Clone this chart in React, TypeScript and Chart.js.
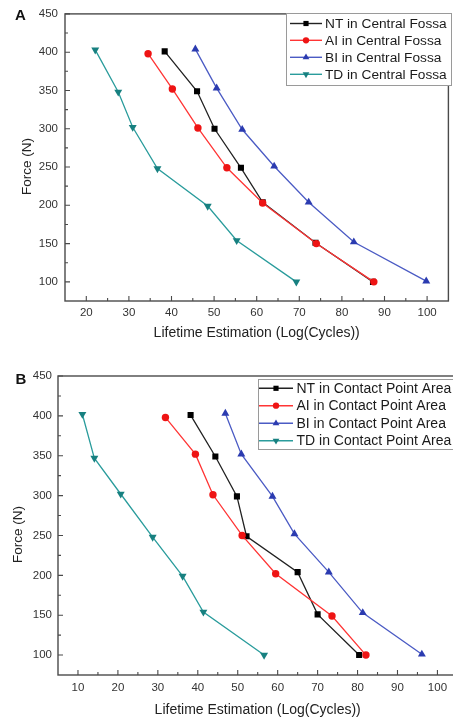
import React, { useEffect, useRef } from "react";
import { Chart, registerables } from "chart.js";

Chart.register(...registerables);

// ---------- data ----------
const SERIES = ["NT", "AI", "BI", "TD"];
const SUFFIX_A = " in Central Fossa";
const SUFFIX_B = " in Contact Point Area";

// Panel A (Central Fossa)
const A_NT_X = [38.4, 46.0, 50.1, 56.3, 61.4, 73.8, 87.3];
const A_NT_Y = [401, 349, 300, 249, 204, 151, 100];
const A_AI_X = [34.5, 40.2, 46.2, 53.0, 61.4, 74.0, 87.5];
const A_AI_Y = [398, 352, 301, 249, 203, 150, 100];
const A_BI_X = [45.6, 50.6, 56.6, 64.1, 72.2, 82.8, 99.8];
const A_BI_Y = [404, 353, 299, 251, 204, 152, 101];
const A_TD_X = [22.1, 27.5, 30.9, 36.7, 48.5, 55.3, 69.3];
const A_TD_Y = [403, 348, 302, 248, 199, 154, 100];

// Panel B (Contact Point Area)
const B_NT_X = [38.2, 44.4, 49.8, 52.2, 65.0, 70.0, 80.4];
const B_NT_Y = [401, 349, 299, 249, 204, 151, 100];
const B_AI_X = [31.9, 39.4, 43.8, 51.1, 59.5, 73.6, 82.1];
const B_AI_Y = [398, 352, 301, 250, 202, 149, 100];
const B_BI_X = [46.9, 50.9, 58.7, 64.2, 72.8, 81.3, 96.1];
const B_BI_Y = [403, 352, 299, 252, 204, 153, 101];
const B_TD_X = [11.1, 14.1, 20.7, 28.7, 36.2, 41.4, 56.6];
const B_TD_Y = [402, 347, 302, 248, 199, 154, 100];

const Y_TICKS = [100, 150, 200, 250, 300, 350, 400, 450];
const X_TICKS_A = [20, 30, 40, 50, 60, 70, 80, 90, 100];
const X_TICKS_B = [10, 20, 30, 40, 50, 60, 70, 80, 90, 100];

const X_TITLE = "Lifetime Estimation (Log(Cycles))";
const Y_TITLE = "Force (N)";

// ---------- styles ----------
const FONT = '"Liberation Sans", Arial, Helvetica, sans-serif';
const STYLE: Record<string, any> = {
  NT: { line: "#222222", point: "#000000", shape: "rect", radius: 4.3, rotation: 0, order: 4 },
  AI: { line: "#ff3535", point: "#ee1414", shape: "circle", radius: 3.7, rotation: 0, order: 3 },
  BI: { line: "#4b5bc4", point: "#2b3bb0", shape: "triangle", radius: 4.6, rotation: 0, order: 2 },
  TD: { line: "#2a9c9c", point: "#178080", shape: "triangle", radius: 4.6, rotation: 180, order: 1 },
};

function drawMarker(ctx: CanvasRenderingContext2D, shape: string, x: number, y: number, r: number, rot: number) {
  ctx.beginPath();
  if (shape === "circle") {
    ctx.arc(x, y, r, 0, Math.PI * 2);
  } else if (shape === "rect") {
    const s = Math.SQRT1_2 * r;
    ctx.rect(x - s, y - s, 2 * s, 2 * s);
  } else {
    let a = (rot * Math.PI) / 180;
    for (let i = 0; i < 3; i++) {
      const px = x + Math.sin(a) * r;
      const py = y - Math.cos(a) * r;
      if (i === 0) ctx.moveTo(px, py);
      else ctx.lineTo(px, py);
      a += (2 * Math.PI) / 3;
    }
    ctx.closePath();
  }
  ctx.fill();
}

const decorPlugin = {
  id: "decor",
  beforeDatasetsDraw(chart: any, _args: any, o: any) {
    const ctx: CanvasRenderingContext2D = chart.ctx;
    const { left, right, top, bottom } = chart.chartArea;
    const xs = chart.scales.x;
    const ys = chart.scales.y;
    ctx.save();
    ctx.strokeStyle = "#4a4a4a";
    ctx.lineWidth = 1.4;
    ctx.strokeRect(left, top, right - left, bottom - top);
    ctx.lineWidth = 1.1;
    ctx.beginPath();
    // x ticks (inward)
    o.xTicks.forEach((v: number, i: number) => {
      const px = xs.getPixelForValue(v);
      ctx.moveTo(px, bottom);
      ctx.lineTo(px, bottom - 5);
      const mv = v + (o.xTicks[1] - o.xTicks[0]) / 2;
      const mp = xs.getPixelForValue(mv);
      if (mp < right - 1) {
        ctx.moveTo(mp, bottom);
        ctx.lineTo(mp, bottom - 3);
      }
      if (i === 0) {
        const m0 = xs.getPixelForValue(v - (o.xTicks[1] - o.xTicks[0]) / 2);
        if (m0 > left + 1) {
          ctx.moveTo(m0, bottom);
          ctx.lineTo(m0, bottom - 3);
        }
      }
    });
    Y_TICKS.forEach((v: number, i: number) => {
      const py = ys.getPixelForValue(v);
      ctx.moveTo(left, py);
      ctx.lineTo(left + 5, py);
      if (i < Y_TICKS.length - 1) {
        const mp = ys.getPixelForValue(v + (Y_TICKS[1] - Y_TICKS[0]) / 2);
        ctx.moveTo(left, mp);
        ctx.lineTo(left + 3, mp);
      }
    });
    ctx.stroke();

    // axis titles
    ctx.fillStyle = "#222";
    ctx.textAlign = "center";
    ctx.textBaseline = "middle";
    ctx.font = `${o.xTitleSize}px ${FONT}`;
    ctx.fillText(X_TITLE, (left + right) / 2 + o.xTitleDx, bottom + o.xTitleDy);
    ctx.save();
    ctx.translate(left + o.yTitleDx, (top + bottom) / 2 + o.yTitleDy);
    ctx.rotate(-Math.PI / 2);
    ctx.font = `${o.yTitleSize}px ${FONT}`;
    ctx.fillText(Y_TITLE, 0, 0);
    ctx.restore();

    // panel letter
    ctx.font = `bold ${o.letterSize}px ${FONT}`;
    ctx.fillStyle = "#111";
    ctx.fillText(o.letter, o.letterX, o.letterY);
    ctx.restore();
  },
  afterDraw(chart: any, _args: any, o: any) {
    const ctx: CanvasRenderingContext2D = chart.ctx;
    const L = o.legend;
    ctx.save();
    ctx.fillStyle = "#ffffff";
    ctx.fillRect(L.left, L.top, L.right - L.left, L.bottom - L.top);
    ctx.strokeStyle = "#9a9a9a";
    ctx.lineWidth = 1;
    ctx.strokeRect(L.left + 0.5, L.top + 0.5, L.right - L.left, L.bottom - L.top);
    chart.data.datasets.forEach((ds: any, i: number) => {
      const st = STYLE[ds.key];
      const y = L.rows[i];
      ctx.strokeStyle = st.line;
      ctx.lineWidth = 1.4;
      ctx.beginPath();
      ctx.moveTo(L.x0, y);
      ctx.lineTo(L.x1, y);
      ctx.stroke();
      ctx.fillStyle = st.point;
      drawMarker(ctx, st.shape, (L.x0 + L.x1) / 2, y, st.radius * 0.85, st.rotation);
      ctx.fillStyle = "#1a1a1a";
      ctx.font = `${L.fontSize}px ${FONT}`;
      ctx.textAlign = "left";
      ctx.textBaseline = "middle";
      ctx.fillText(ds.label, L.textX, y + 0.5);
    });
    ctx.restore();
  },
};

function makeDatasets(xsList: number[][], ysList: number[][], suffix: string) {
  return SERIES.map((key, i) => {
    const st = STYLE[key];
    return {
      key,
      label: key + suffix,
      order: st.order,
      data: xsList[i].map((x, j) => ({ x, y: ysList[i][j] })),
      borderColor: st.line,
      backgroundColor: st.point,
      pointBackgroundColor: st.point,
      pointBorderColor: st.point,
      pointBorderWidth: 0,
      pointStyle: st.shape,
      pointRotation: st.rotation,
      pointRadius: st.radius,
      borderWidth: 1.3,
      tension: 0,
      fill: false,
    };
  });
}

type PanelSpec = {
  width: number;
  height: number;
  top: number;
  xMin: number;
  xMax: number;
  xTicks: number[];
  datasets: any[];
  padTop: number;
  padRight: number;
  yAxisWidth: number;
  xAxisHeight: number;
  xTickPad: number;
  yTickPad: number;
  decor: any;
};

function Panel({ spec }: { spec: PanelSpec }) {
  const ref = useRef<HTMLCanvasElement | null>(null);
  useEffect(() => {
    if (!ref.current) return;
    const chart = new Chart(ref.current, {
      type: "line",
      data: { datasets: spec.datasets },
      plugins: [decorPlugin],
      options: {
        animation: false,
        responsive: false,
        devicePixelRatio: 1,
        layout: { padding: { top: spec.padTop, right: spec.padRight, left: 0, bottom: 0 } },
        plugins: {
          legend: { display: false },
          tooltip: { enabled: false },
          decor: { ...spec.decor, xTicks: spec.xTicks },
        } as any,
        scales: {
          x: {
            type: "linear",
            min: spec.xMin,
            max: spec.xMax,
            afterBuildTicks: (s: any) => {
              s.ticks = spec.xTicks.map((v) => ({ value: v }));
            },
            afterFit: (s: any) => {
              s.height = spec.xAxisHeight;
            },
            grid: { display: false, drawTicks: false },
            border: { display: false },
            ticks: {
              font: { family: FONT, size: 11.5 },
              color: "#333",
              padding: spec.xTickPad,
              maxRotation: 0,
              autoSkip: false,
            },
          },
          y: {
            type: "linear",
            min: 75,
            max: 450,
            afterBuildTicks: (s: any) => {
              s.ticks = Y_TICKS.map((v) => ({ value: v }));
            },
            afterFit: (s: any) => {
              s.width = spec.yAxisWidth;
            },
            grid: { display: false, drawTicks: false },
            border: { display: false },
            ticks: {
              font: { family: FONT, size: 11.5 },
              color: "#333",
              padding: spec.yTickPad,
              autoSkip: false,
            },
          },
        },
      } as any,
    });
    return () => chart.destroy();
  }, [spec]);
  return (
    <canvas
      ref={ref}
      width={spec.width}
      height={spec.height}
      style={{ position: "absolute", left: 0, top: spec.top, width: spec.width, height: spec.height, display: "block" }}
    />
  );
}

const PANEL_A: PanelSpec = {
  width: 453,
  height: 352,
  top: 0,
  xMin: 15,
  xMax: 105,
  xTicks: X_TICKS_A,
  datasets: makeDatasets([A_NT_X, A_AI_X, A_BI_X, A_TD_X], [A_NT_Y, A_AI_Y, A_BI_Y, A_TD_Y], SUFFIX_A),
  padTop: 11,
  padRight: 1,
  yAxisWidth: 65,
  xAxisHeight: 51,
  xTickPad: 5,
  yTickPad: 7,
  decor: {
    letter: "A",
    letterX: 20.5,
    letterY: 16,
    letterSize: 15,
    xTitleSize: 14,
    xTitleDx: 0,
    xTitleDy: 32,
    yTitleSize: 13.5,
    yTitleDx: -38,
    yTitleDy: 9,
    legend: {
      left: 286,
      top: 13,
      right: 451,
      bottom: 85,
      rows: [23.5, 40.3, 57.3, 74.3],
      x0: 290,
      x1: 322,
      textX: 325,
      fontSize: 13.7,
    },
  },
};

const PANEL_B: PanelSpec = {
  width: 462,
  height: 360,
  top: 358,
  xMin: 5,
  xMax: 105,
  xTicks: X_TICKS_B,
  datasets: makeDatasets([B_NT_X, B_AI_X, B_BI_X, B_TD_X], [B_NT_Y, B_AI_Y, B_BI_Y, B_TD_Y], SUFFIX_B),
  padTop: 18,
  padRight: 2,
  yAxisWidth: 58,
  xAxisHeight: 43,
  xTickPad: 6,
  yTickPad: 6,
  decor: {
    letter: "B",
    letterX: 21,
    letterY: 22,
    letterSize: 15,
    xTitleSize: 14,
    xTitleDx: 0,
    xTitleDy: 35,
    yTitleSize: 13.5,
    yTitleDx: -40,
    yTitleDy: 9,
    legend: {
      left: 258,
      top: 21,
      right: 470,
      bottom: 91,
      rows: [30.3, 47.7, 65.3, 82.7],
      x0: 259,
      x1: 293,
      textX: 296.5,
      fontSize: 14,
    },
  },
};

export default function App() {
  useEffect(() => {
    document.body.style.margin = "0";
  }, []);
  return (
    <div style={{ position: "relative", width: 453, height: 718, overflow: "hidden", background: "#fff" }}>
      <Panel spec={PANEL_A} />
      <Panel spec={PANEL_B} />
    </div>
  );
}
